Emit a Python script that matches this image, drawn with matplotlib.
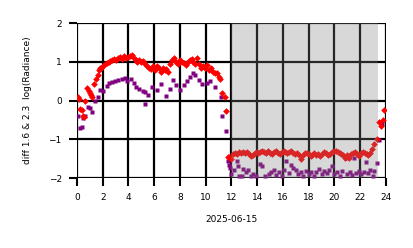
import numpy as np
import matplotlib
matplotlib.use("Agg")
import matplotlib.pyplot as plt

# red: diff 1.6 (daytime part + night part)
red_h = [0.05, 0.15, 0.25, 0.35, 0.45, 0.55, 0.65, 0.8, 0.9, 1.0, 1.1, 1.2, 1.35, 1.5, 1.6,
         1.7, 1.8, 1.9, 2.0, 2.15, 2.3, 2.45, 2.6, 2.75, 2.9, 3.05, 3.2, 3.35, 3.5, 3.65,
         3.8, 3.95, 4.1, 4.25, 4.4, 4.55, 4.7, 4.85, 5.0, 5.15, 5.3, 5.45, 5.6, 5.75, 5.9,
         6.05, 6.2, 6.35, 6.5, 6.65, 6.8, 6.95, 7.1, 7.25, 7.4, 7.55, 7.7, 7.85, 8.0, 8.15,
         8.3, 8.45, 8.6, 8.75, 8.9, 9.05, 9.2, 9.35, 9.5, 9.65, 9.8, 9.95, 10.1, 10.25, 10.4,
         10.55, 10.7, 10.85, 11.0, 11.15, 11.3, 11.5, 11.6, 11.75,
         11.85, 12.0, 12.15, 12.3, 12.45, 12.6, 12.75, 12.9, 13.05, 13.2, 13.35, 13.5, 13.65,
         13.8, 13.95, 14.1, 14.25, 14.4, 14.55, 14.7, 14.85, 15.0, 15.15, 15.3, 15.45, 15.6,
         15.75, 15.9, 16.05, 16.2, 16.35, 16.5, 16.65, 16.8, 16.95, 17.1, 17.25, 17.4, 17.55,
         17.7, 17.85, 18.0, 18.15, 18.3, 18.45, 18.6, 18.75, 18.9, 19.05, 19.2, 19.35, 19.5,
         19.65, 19.8, 19.95, 20.1, 20.25, 20.4, 20.55, 20.7, 20.85, 21.0, 21.15, 21.3, 21.45,
         21.6, 21.75, 21.9, 22.05, 22.2, 22.35, 22.5, 22.65, 22.8, 22.95, 23.1, 23.3, 23.5,
         23.6, 23.75, 23.85]
red_v = [0.1, 0.05, -0.22, -0.25, -0.4, -0.42, 0.0, 0.32, 0.25, 0.2, 0.15, 0.1, 0.42, 0.55, 0.65,
         0.8, 0.85, 0.85, 0.9, 0.95, 0.98, 1.0, 1.02, 1.05, 1.08, 1.05, 1.1, 1.12, 1.08, 1.15,
         1.1, 1.12, 1.15, 1.18, 1.1, 1.05, 1.0, 1.05, 1.0, 1.02, 0.95, 0.88, 0.85, 0.82, 0.9,
         0.8, 0.88, 0.85, 0.75, 0.85, 0.78, 0.82, 0.75, 0.95, 1.05, 1.1, 1.0, 0.95, 1.05, 1.0,
         0.98, 0.92, 1.0, 1.05, 1.08, 1.0, 0.95, 1.1, 0.95, 0.85, 0.9, 0.85, 0.92, 0.8, 0.85,
         0.75, 0.7, 0.72, 0.6, 0.55, 0.2, 0.08, -0.28, -1.45,
         -1.45, -1.5, -1.38, -1.35, -1.38, -1.33, -1.36, -1.32, -1.35, -1.34, -1.38, -1.42, -1.4,
         -1.35, -1.33, -1.36, -1.32, -1.3, -1.34, -1.36, -1.3, -1.35, -1.38, -1.33, -1.31, -1.35,
         -1.37, -1.34, -1.3, -1.33, -1.36, -1.33, -1.31, -1.35, -1.38, -1.36, -1.4, -1.52, -1.4,
         -1.36, -1.35, -1.38, -1.42, -1.4, -1.36, -1.4, -1.38, -1.42, -1.38, -1.34, -1.36, -1.4,
         -1.38, -1.33, -1.3, -1.3, -1.33, -1.35, -1.38, -1.4, -1.48, -1.4, -1.48, -1.38, -1.36,
         -1.34, -1.38, -1.42, -1.36, -1.33, -1.35, -1.38, -1.4, -1.35, -1.25, -1.12, -1.0, -0.55,
         -0.65, -0.5, -0.25]

# purple: diff 2.3
pur_h = [0.05, 0.2, 0.35, 0.5, 0.6, 0.85, 1.0, 1.2, 1.4, 1.6, 1.8, 2.0, 2.3, 2.5, 2.7, 2.95,
         3.2, 3.5, 3.7, 3.9, 4.2, 4.4, 4.6, 4.8, 5.1, 5.3, 5.3, 5.5, 5.8, 6.2, 6.55, 6.95, 7.2,
         7.45, 7.7, 8.0, 8.3, 8.55, 8.75, 9.0, 9.2, 9.5, 9.75, 10.1, 10.35, 10.75, 11.2, 11.3,
         11.55,
         11.7, 11.8, 11.9, 12.0, 12.2, 12.4, 12.5, 12.6, 12.8, 12.9, 13.1, 13.3, 13.5, 13.7,
         13.9, 14.2, 14.4, 14.6, 14.9, 15.1, 15.3, 15.5, 15.7, 15.9, 16.1, 16.25, 16.45, 16.6,
         16.8, 17.0, 17.2, 17.4, 17.6, 17.8, 18.0, 18.2, 18.4, 18.6, 18.8, 19.0, 19.2, 19.4,
         19.6, 19.85, 20.0, 20.2, 20.4, 20.6, 20.9, 21.0, 21.2, 21.4, 21.55, 21.7, 21.9, 22.1,
         22.3, 22.45, 22.6, 22.8, 23.0, 23.1, 23.3, 23.5, 23.7]
pur_v = [-0.4, -0.7, -0.68, -0.45, -0.4, -0.17, -0.2, -0.3, 0.0, 0.1, 0.26, 0.25, 0.37, 0.45,
         0.48, 0.5, 0.52, 0.55, 0.58, 0.5, 0.55, 0.45, 0.34, 0.3, 0.25, 0.21, -0.09, 0.15, 0.34,
         0.26, 0.43, 0.13, 0.3, 0.52, 0.4, 0.26, 0.4, 0.5, 0.6, 0.7, 0.65, 0.52, 0.43, 0.45, 0.5,
         0.35, 0.1, -0.39, -0.79,
         -1.57, -1.67, -1.75, -1.9, -1.8, -1.55, -1.7, -1.95, -1.95, -1.76, -1.85, -1.8, -1.95,
         -1.9, -1.95, -1.63, -1.7, -1.95, -1.9, -1.85, -1.78, -1.92, -1.85, -1.95, -1.8, -1.55,
         -1.88, -1.66, -1.75, -1.8, -1.9, -1.85, -1.95, -1.82, -1.9, -1.85, -1.95, -1.85, -1.76,
         -1.9, -1.83, -1.88, -1.8, -1.68, -1.9, -1.85, -1.95, -1.82, -1.48, -1.9, -1.85, -1.92,
         -1.48, -1.88, -1.82, -1.9, -1.85, -1.59, -1.88, -1.8, -1.95, -1.82, -1.6, -1.03, -0.6]

fig = plt.figure(figsize=(4.14, 2.48), dpi=100)
ax = fig.add_axes([0.186, 0.282, 0.746, 0.625])

ax.plot(pur_h, pur_v, ls="none", marker="s", ms=3.0, color="purple", mec="none")
ax.plot(red_h, red_v, ls="none", marker="D", ms=3.4, color="red", mec="none")
ax.axvspan(12, 23.4, color="gray", alpha=0.3, lw=0, zorder=3)

ax.set_xlim(0, 24)
ax.set_ylim(-2, 2)
ax.set_xticks(np.arange(0, 25, 2))
ax.set_yticks([-2, -1, 0, 1, 2])
ax.grid(True, color="black", lw=1.6)
ax.tick_params(labelsize=6.5, length=6, width=1.5, color="black", pad=5)
for s in ax.spines.values():
    s.set_visible(False)
ax.set_xlabel("2025-06-15", fontsize=6.5, labelpad=9)
ax.set_ylabel("diff 1.6 & 2.3  log(Radiance)", fontsize=6.5, labelpad=12)

fig.savefig("out.png", dpi=100)
